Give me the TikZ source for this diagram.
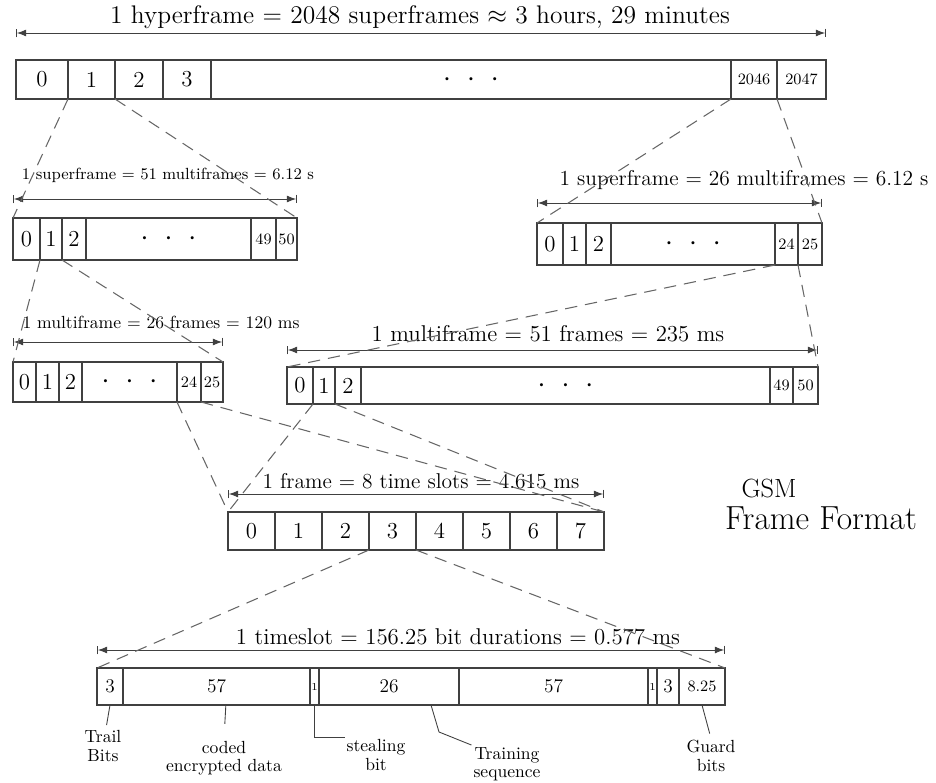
\documentclass[tikz,border=0pt]{standalone}
\usepackage{tikz}
\usetikzlibrary{positioning,calc,arrows.meta}
\newcommand{\celldots}{\textbullet\hspace{8pt}\textbullet\hspace{8pt}\textbullet}
\tikzset{
  cell/.style={rectangle, draw=black!75, line width=0.6pt, inner sep=0pt, outer sep=0pt, text centered, font=\fontsize{13}{15}\selectfont},
  sm/.style={font=\fontsize{9}{10}\selectfont},
  md/.style={font=\fontsize{11}{12}\selectfont},
  dots/.style={font=\fontsize{6}{7}\selectfont},
  cw/.style={minimum width=#1*0.02cm},
  ch/.style={minimum height=#1*0.02cm},
  zoomln/.style={draw=black!60, line width=0.6pt, dash pattern=on 7pt off 4.5pt},
  dimln/.style={draw=black!75, line width=0.5pt, |<->|, >=Latex},
  dimtxt/.style={font=\fontsize{#1}{#1}\selectfont, inner sep=1pt},
  lead/.style={draw=black!75, line width=0.5pt},
  note/.style={font=\fontsize{10}{10.5}\selectfont, align=center, inner sep=1pt},
  ttl/.style={font=\fontsize{#1}{#1}\selectfont, inner sep=1pt},
  node distance=0pt
}
\begin{document}
\begin{tikzpicture}[x=0.02cm, y=-0.02cm]
	\useasboundingbox (0,0) rectangle (936,783);
	% hyperframe
	\node[cell, ch=39, cw=52, anchor=north west] (h0) at (16,60) {0};
	\node[cell, ch=39, cw=47, right=of h0] (h1) {1};
	\node[cell, ch=39, cw=48, right=of h1] (h2) {2};
	\node[cell, ch=39, cw=48, right=of h2] (h3) {3};
	\node[cell, ch=39, cw=520, dots, right=of h3] (hdots) {\celldots};
	\node[cell, ch=39, cw=46, sm, right=of hdots] (h2046) {2046};
	\node[cell, ch=39, cw=49, sm, right=of h2046] (h2047) {2047};
	\draw[dimln] ([yshift=0.54cm]h0.north west) -- ([yshift=0.54cm]h2047.north east);
	\node[dimtxt=14.5] (hlbl) at (420,17) {1 hyperframe = 2048 superframes $\approx$ 3 hours, 29 minutes};
	%
	% superframe, 51 multiframes
	\node[cell, ch=42, cw=27, anchor=north west] (sa0) at (13,218) {0};
	\node[cell, ch=42, cw=22, right=of sa0] (sa1) {1};
	\node[cell, ch=42, cw=24, right=of sa1] (sa2) {2};
	\node[cell, ch=42, cw=165, dots, right=of sa2] (sadots) {\celldots};
	\node[cell, ch=42, cw=25, sm, right=of sadots] (sa49) {49};
	\node[cell, ch=42, cw=21, sm, right=of sa49] (sa50) {50};
	\draw[dimln] ([yshift=0.38cm]sa0.north west) -- ([yshift=0.38cm]sa50.north east);
	\node[dimtxt=9.2] (salbl) at (168,175) {1 superframe = 51 multiframes = 6.12 s};
	%
	% superframe, 26 multiframes
	\node[cell, ch=42, cw=26, anchor=north west] (sb0) at (537,223) {0};
	\node[cell, ch=42, cw=23, right=of sb0] (sb1) {1};
	\node[cell, ch=42, cw=25, right=of sb1] (sb2) {2};
	\node[cell, ch=42, cw=164, dots, right=of sb2] (sbdots) {\celldots};
	\node[cell, ch=42, cw=23, sm, right=of sbdots] (sb24) {24};
	\node[cell, ch=42, cw=24, sm, right=of sb24] (sb25) {25};
	\draw[dimln] ([yshift=0.40cm]sb0.north west) -- ([yshift=0.40cm]sb25.north east);
	\node[dimtxt=12.2] (sblbl) at (744,180) {1 superframe = 26 multiframes = 6.12 s};
	%
	% multiframe, 26 frames
	\node[cell, ch=40, cw=23, anchor=north west] (ma0) at (13,362) {0};
	\node[cell, ch=40, cw=23, right=of ma0] (ma1) {1};
	\node[cell, ch=40, cw=23, right=of ma1] (ma2) {2};
	\node[cell, ch=40, cw=95, dots, right=of ma2] (madots) {\celldots};
	\node[cell, ch=40, cw=24, sm, right=of madots] (ma24) {24};
	\node[cell, ch=40, cw=22, sm, right=of ma24] (ma25) {25};
	\draw[dimln] ([yshift=0.40cm]ma0.north west) -- ([yshift=0.40cm]ma25.north east);
	\node[dimtxt=10] (malbl) at (161,323) {1 multiframe = 26 frames = 120 ms};
	%
	% multiframe, 51 frames
	\node[cell, ch=37, cw=26, anchor=north west] (mb0) at (287,367) {0};
	\node[cell, ch=37, cw=22, right=of mb0] (mb1) {1};
	\node[cell, ch=37, cw=26, right=of mb1] (mb2) {2};
	\node[cell, ch=37, cw=409, dots, right=of mb2] (mbdots) {\celldots};
	\node[cell, ch=37, cw=23, sm, right=of mbdots] (mb49) {49};
	\node[cell, ch=37, cw=25, sm, right=of mb49] (mb50) {50};
	\draw[dimln] ([yshift=0.34cm]mb0.north west) -- ([yshift=0.34cm]mb50.north east);
	\node[dimtxt=13] (mblbl) at (548,334) {1 multiframe = 51 frames = 235 ms};
	%
	% frame
	\node[cell, ch=38, cw=47, anchor=north west] (f0) at (228,512) {0};
	\node[cell, ch=38, cw=47, right=of f0] (f1) {1};
	\node[cell, ch=38, cw=47, right=of f1] (f2) {2};
	\node[cell, ch=38, cw=47, right=of f2] (f3) {3};
	\node[cell, ch=38, cw=47, right=of f3] (f4) {4};
	\node[cell, ch=38, cw=47, right=of f4] (f5) {5};
	\node[cell, ch=38, cw=47, right=of f5] (f6) {6};
	\node[cell, ch=38, cw=47, right=of f6] (f7) {7};
	\draw[dimln] ([yshift=0.36cm]f0.north west) -- ([yshift=0.36cm]f7.north east);
	\node[dimtxt=12.2] (flbl) at (421,481) {1 frame = 8 time slots = 4.615 ms};
	%
	% time slot
	\node[cell, ch=37, cw=26, md, anchor=north west] (g0) at (97,668) {3};
	\node[cell, ch=37, cw=187, md, right=of g0] (g1) {57};
	\node[cell, ch=37, cw=9, font=\fontsize{6}{6}\selectfont, right=of g1] (g2) {1};
	\node[cell, ch=37, cw=140, md, right=of g2] (g3) {26};
	\node[cell, ch=37, cw=189, md, right=of g3] (g4) {57};
	\node[cell, ch=37, cw=9, font=\fontsize{6}{6}\selectfont, right=of g4] (g5) {1};
	\node[cell, ch=37, cw=22, md, right=of g5] (g6) {3};
	\node[cell, ch=37, cw=46, sm, right=of g6] (g7) {8.25};
	\draw[dimln] ([yshift=0.36cm]g0.north west) -- ([yshift=0.36cm]g7.north east);
	\node[dimtxt=13] (glbl) at (458,637) {1 timeslot = 156.25 bit durations = 0.577 ms};
	%
	\node[ttl=15] (gsm) at (769,489) {GSM};
	\node[ttl=19] (fmt) at (821,518) {Frame Format};
	%
	\node[note] (trail) at (103,746) {Trail\\Bits};
	\node[note] (coded) at (224,758) {coded\\encrypted data};
	\node[note] (steal) at (376,755) {stealing\\bit};
	\node[note] (train) at (507,764) {Training\\sequence};
	\node[note] (guard) at (711,756) {Guard\\bits};
	%
	\draw[zoomln] (h1.south west) -- (sa0.north west);
	\draw[zoomln] (h1.south east) -- (sa50.north east);
	\draw[zoomln] (h2046.south west) -- (sb0.north west);
	\draw[zoomln] (h2046.south east) -- (sb25.north east);
	\draw[zoomln] (sa1.south west) -- (ma0.north west);
	\draw[zoomln] (sa1.south east) -- (ma25.north east);
	\draw[zoomln] (sb24.south west) -- (mb0.north west);
	\draw[zoomln] (sb24.south east) -- (mb50.north east);
	\draw[zoomln] (ma24.south west) -- (f0.north west);
	\draw[zoomln] (ma24.south east) -- (f7.north east);
	\draw[zoomln] (mb1.south west) -- (f0.north west);
	\draw[zoomln] (mb1.south east) -- (f7.north east);
	\draw[zoomln] (f3.south west) -- (g0.north west);
	\draw[zoomln] (f3.south east) -- (g7.north east);
	%
	\draw[lead, shorten >=2pt] (g0.south) -- (trail);
	\draw[lead, shorten >=0.3cm] ($(g1.south west)!.55!(g1.south east)$) -- (coded.north);
	\draw[lead] (g2.south) |- (steal.north west);
	\draw[lead] ($(g3.south west)!.8!(g3.south east)$) -- ++(8,27) -- (train.north west);
	\draw[lead, shorten >=0.1cm] (g7.south) -- (guard.north);
\end{tikzpicture}
\end{document}
